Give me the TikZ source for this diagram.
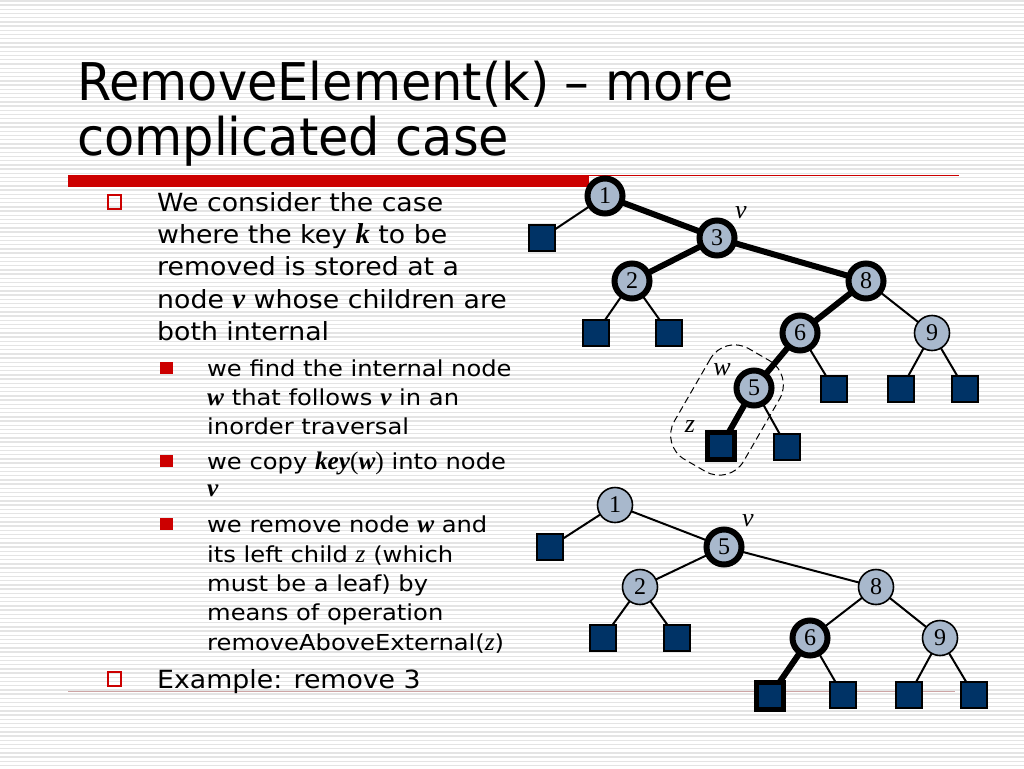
\documentclass[tikz,border=0pt]{standalone}
\usepackage{fontspec}
\setmainfont{DejaVu Sans}
\newfontfamily\ttlfont[FakeStretch=0.95]{DejaVu Sans}
\newfontfamily\mainfnt[FakeStretch=1.07]{DejaVu Sans}
\newfontfamily\subfnt[FakeStretch=1.1]{DejaVu Sans}
\newfontfamily\tms{Liberation Serif}
\newfontfamily\tmsbig[Scale=1.15]{Liberation Serif}
\newcommand{\bivar}[1]{{\tmsbig\bfseries\itshape #1}}
\newcommand{\itvar}[1]{{\tmsbig\itshape #1}}
\definecolor{barred}{RGB}{204,0,0}
\definecolor{nodefill}{RGB}{168,184,204}
\definecolor{leaffill}{RGB}{0,51,102}
\definecolor{stripe}{RGB}{228,228,228}
\definecolor{lowline}{RGB}{205,165,165}
\pgfdeclarelayer{bg}
\pgfdeclarelayer{edges}
\pgfsetlayers{bg,edges,main}
\tikzset{
  inode/.style={circle, fill=nodefill, draw=black, line width=1.6, minimum size=35, inner sep=0pt,
    font=\tms\fontsize{24}{24}\selectfont},
  bnode/.style={inode, line width=6},
  leaf/.style={rectangle, fill=leaffill, draw=black, line width=1.5, minimum size=26, inner sep=0pt},
  bleaf/.style={leaf, line width=5, minimum size=27},
  nedge/.style={line width=2},
  tedge/.style={line width=6},
  lbl/.style={font=\tms\itshape\fontsize{26}{26}\selectfont, inner sep=0pt},
  maintxt/.style={anchor=base west, inner sep=0pt, font=\mainfnt\fontsize{25}{25}\selectfont},
  subtxt/.style={anchor=base west, inner sep=0pt, font=\subfnt\fontsize{22}{22}\selectfont},
  hbullet/.style={rectangle, draw=barred, line width=2.4, fill=none, minimum size=13.5, inner sep=0pt},
  fbullet/.style={rectangle, fill=barred, minimum size=12.5, inner sep=0pt},
}
\begin{document}
\begin{tikzpicture}[x=1pt,y=-1pt]
\useasboundingbox (0,0) rectangle (1024,768);
\begin{pgfonlayer}{bg}
\fill[white] (0,0) rectangle (1024,768);
\foreach \i in {0,...,183} \draw[stripe, line width=1.4] (0,{\i*4.2+1}) -- (1024,{\i*4.2+1});
\fill[barred] (68,175) rectangle (589,187);
\draw[barred, line width=1.2] (589,175.6) -- (959,175.6);
\draw[lowline, line width=0.9] (68,691) -- (955,691);
\end{pgfonlayer}

% title
\node[anchor=base west, inner sep=0pt, font=\ttlfont\fontsize{52}{52}\selectfont] (t1) at (77,100) {RemoveElement(k) – more};
\node[anchor=base west, inner sep=0pt, font=\ttlfont\fontsize{52}{52}\selectfont] (t2) at (77,155) {complicated case};

% bullets
\node[hbullet] (b1) at (114.5,202) {};
\node[hbullet] (b2) at (114.5,679) {};
\node[fbullet] (s1) at (166.5,368) {};
\node[fbullet] (s2) at (166.5,461) {};
\node[fbullet] (s3) at (166.5,524) {};

% text
\node[maintxt] (m1) at (157,211) {We consider the case};
\node[maintxt] (m2) at (157,243) {where the key \bivar{k} to be};
\node[maintxt] (m3) at (157,275) {removed is stored at a};
\node[maintxt] (m4) at (157,308) {node \bivar{v} whose children are};
\node[maintxt] (m5) at (157,340) {both internal};
\node[subtxt] (a1) at (207,376) {we find the internal node};
\node[subtxt] (a2) at (207,405) {\bivar{w} that follows \bivar{v} in an};
\node[subtxt] (a3) at (207,434) {inorder traversal};
\node[subtxt] (a4) at (207,469) {we copy \bivar{key}{\tmsbig(}\bivar{w}{\tmsbig)} into node};
\node[subtxt] (a5) at (207,496) {\bivar{v}};
\node[subtxt] (a6) at (207,532) {we remove node \bivar{w} and};
\node[subtxt] (a7) at (207,562) {its left child \itvar{z} (which};
\node[subtxt] (a8) at (207,591) {must be a leaf) by};
\node[subtxt] (a9) at (207,620) {means of operation};
\node[subtxt] (a10) at (207,650) {removeAboveExternal(\itvar{z})};
\node[maintxt] (m6) at (157,688) {Example: remove 3};

% ---------- tree 1 ----------
\node[bnode] (n1) at (605,196) {1};
\node[bnode] (n3) at (717,238) {3};
\node[bnode] (n2) at (632,281) {2};
\node[bnode] (n8) at (866,281) {8};
\node[bnode] (n6) at (800,333) {6};
\node[inode] (n9) at (932,333) {9};
\node[bnode] (n5) at (754,388) {5};
\node[leaf] (l1) at (542,238) {};
\node[leaf] (l2a) at (596,333) {};
\node[leaf] (l2b) at (669,333) {};
\node[leaf] (l6) at (834,389) {};
\node[leaf] (l9a) at (901,389) {};
\node[leaf] (l9b) at (965,389) {};
\node[bleaf] (lz) at (721,446) {};
\node[leaf] (l5) at (787,447) {};
\node[lbl] (v1) at (741,213) {v};
\node[lbl] (w1) at (722,370) {w};
\node[lbl] (z1) at (690,427) {z};
\node[draw, dashed, dash pattern=on 7pt off 4pt, line width=1, rounded corners=28, minimum width=128, minimum height=80, rotate=60] (grp) at (727,410) {};
\begin{pgfonlayer}{edges}
\draw[tedge] (n1.center) -- (n3.center);
\draw[tedge] (n3.center) -- (n2.center);
\draw[tedge] (n3.center) -- (n8.center);
\draw[tedge] (n8.center) -- (n6.center);
\draw[tedge] (n6.center) -- (n5.center);
\draw[tedge] (n5.center) -- (lz.center);
\draw[nedge] (n1.center) -- (l1.center);
\draw[nedge] (n2.center) -- (l2a.center);
\draw[nedge] (n2.center) -- (l2b.center);
\draw[nedge] (n6.center) -- (l6.center);
\draw[nedge] (n8.center) -- (n9.center);
\draw[nedge] (n9.center) -- (l9a.center);
\draw[nedge] (n9.center) -- (l9b.center);
\draw[nedge] (n5.center) -- (l5.center);
\end{pgfonlayer}

% ---------- tree 2 ----------
\node[inode] (p1) at (615,505) {1};
\node[bnode] (p5) at (724,547) {5};
\node[inode] (p2) at (640,587) {2};
\node[inode] (p8) at (876,587) {8};
\node[bnode] (p6) at (810,638) {6};
\node[inode] (p9) at (940,638) {9};
\node[leaf] (q1) at (550,547) {};
\node[leaf] (q2a) at (603,638) {};
\node[leaf] (q2b) at (677,638) {};
\node[bleaf] (q6a) at (770,696) {};
\node[leaf] (q6b) at (843,695) {};
\node[leaf] (q9a) at (909,695) {};
\node[leaf] (q9b) at (974,695) {};
\node[lbl] (v2) at (748,521) {v};
\begin{pgfonlayer}{edges}
\draw[nedge] (p1.center) -- (q1.center);
\draw[nedge] (p1.center) -- (p5.center);
\draw[nedge] (p5.center) -- (p2.center);
\draw[nedge] (p5.center) -- (p8.center);
\draw[nedge] (p2.center) -- (q2a.center);
\draw[nedge] (p2.center) -- (q2b.center);
\draw[nedge] (p8.center) -- (p6.center);
\draw[nedge] (p8.center) -- (p9.center);
\draw[tedge] (p6.center) -- (q6a.center);
\draw[nedge] (p6.center) -- (q6b.center);
\draw[nedge] (p9.center) -- (q9a.center);
\draw[nedge] (p9.center) -- (q9b.center);
\end{pgfonlayer}
\end{tikzpicture}
\end{document}
